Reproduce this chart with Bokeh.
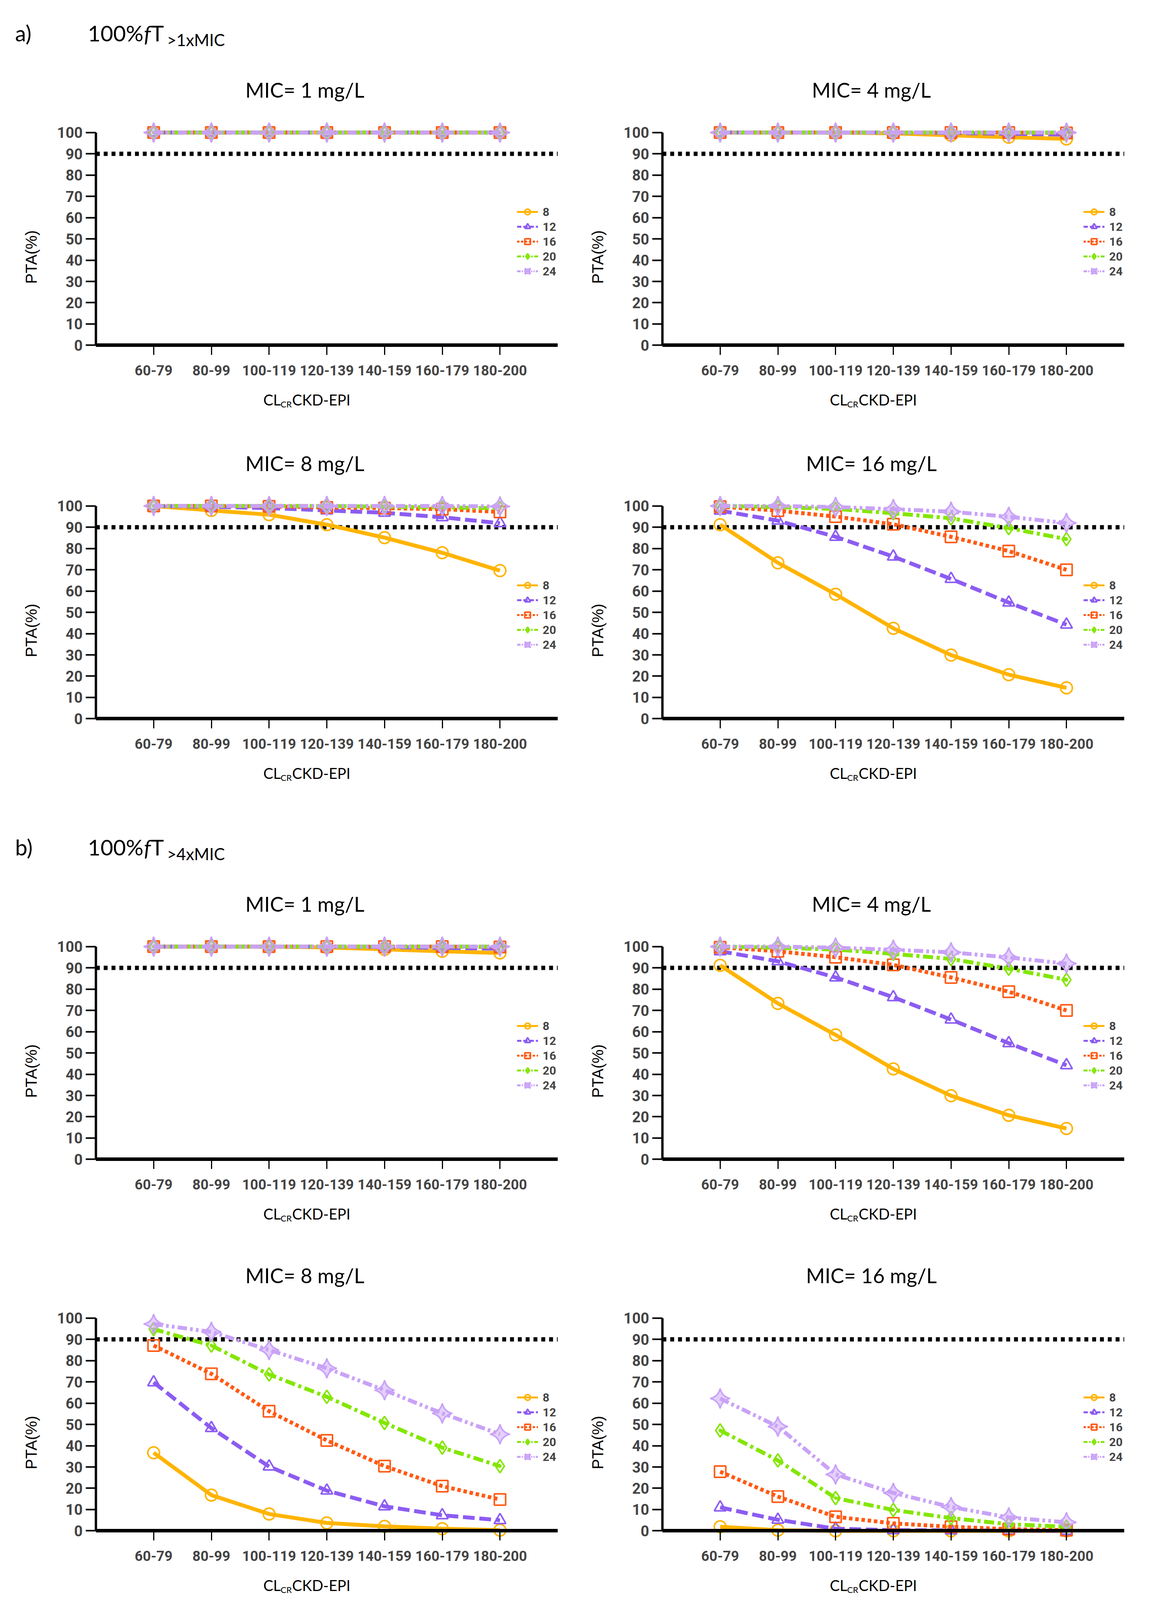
import numpy as np
from bokeh.plotting import figure
from bokeh.models import Label, FixedTicker, Legend, LegendItem
from bokeh.layouts import gridplot
from bokeh.embed import file_html
from bokeh.resources import INLINE

# ---------------- data ----------------
categories = ["60-79", "80-99", "100-119", "120-139", "140-159", "160-179", "180-200"]
doses = ["8", "12", "16", "20", "24"]
y_ticks = [0, 10, 20, 30, 40, 50, 60, 70, 80, 90, 100]
target = 90

# a) 100% fT>1xMIC
pta_a_mic1 = [
    [100, 100, 100, 100, 100, 100, 100],
    [100, 100, 100, 100, 100, 100, 100],
    [100, 100, 100, 100, 100, 100, 100],
    [100, 100, 100, 100, 100, 100, 100],
    [100, 100, 100, 100, 100, 100, 100],
]
pta_a_mic4 = [
    [100, 100, 100, 99.6, 98.7, 97.8, 97.0],
    [100, 100, 100, 100, 99.8, 99.4, 99.0],
    [100, 100, 100, 100, 100, 100, 99.8],
    [100, 100, 100, 100, 100, 100, 100],
    [100, 100, 100, 100, 100, 100, 100],
]
pta_a_mic8 = [
    [100, 97.9, 95.9, 91.2, 85.1, 78.0, 69.6],
    [100, 99.6, 99.0, 97.9, 96.8, 94.7, 91.9],
    [100, 100, 99.8, 99.3, 99.0, 98.5, 97.2],
    [100, 100, 100, 100, 99.7, 99.3, 99.0],
    [100, 100, 100, 100, 100, 100, 99.8],
]
pta_a_mic16 = [
    [91.2, 73.3, 58.5, 42.5, 29.9, 20.7, 14.5],
    [97.8, 93.1, 85.5, 76.2, 65.7, 54.6, 44.2],
    [99.7, 97.8, 95.0, 91.4, 85.5, 78.8, 70.0],
    [100, 99.5, 98.6, 96.6, 94.2, 89.6, 84.4],
    [100, 100, 99.5, 98.5, 97.3, 94.9, 92.0],
]
# b) 100% fT>4xMIC
pta_b_mic1 = [
    [100, 100, 100, 99.6, 98.7, 97.8, 97.0],
    [100, 100, 100, 100, 99.8, 99.4, 99.0],
    [100, 100, 100, 100, 100, 100, 99.8],
    [100, 100, 100, 100, 100, 100, 100],
    [100, 100, 100, 100, 100, 100, 100],
]
pta_b_mic4 = [
    [91.2, 73.3, 58.5, 42.5, 29.9, 20.7, 14.5],
    [97.8, 93.1, 85.5, 76.2, 65.7, 54.6, 44.2],
    [99.7, 97.8, 95.0, 91.4, 85.5, 78.8, 70.0],
    [100, 99.5, 98.6, 96.6, 94.2, 89.6, 84.4],
    [100, 100, 99.5, 98.5, 97.3, 94.9, 92.0],
]
pta_b_mic8 = [
    [36.7, 16.8, 7.9, 3.7, 2.1, 1.0, 0.3],
    [69.8, 48.3, 30.2, 18.9, 11.5, 7.3, 5.0],
    [87.1, 73.8, 56.2, 42.5, 30.4, 21.0, 14.7],
    [94.8, 87.1, 73.5, 63.0, 50.7, 39.1, 30.4],
    [97.2, 93.5, 85.0, 76.4, 66.1, 55.2, 45.4],
]
pta_b_mic16 = [
    [1.9, 0.3, 0.0, 0.0, 0.0, 0.0, 0.0],
    [11.0, 5.2, 1.0, 0.3, 0.2, 0.1, 0.0],
    [27.8, 16.1, 6.6, 3.5, 1.9, 0.8, 0.3],
    [47.2, 33.1, 15.4, 9.8, 6.0, 3.1, 1.9],
    [62.2, 49.0, 26.5, 17.8, 11.2, 6.3, 4.0],
]
titles = ["MIC= 1 mg/L", "MIC= 4 mg/L", "MIC= 8 mg/L", "MIC= 16 mg/L"]
x_axis_end = len(categories) + 1

# ---------------- styles ----------------
colors = ["#FFB400", "#8C5CF2", "#FF5A14", "#84E600", "#C9A2F7"]
dashes = ["solid", "30 12", "9 7", "26 9 8 9", "24 8 7 8 7 8"]
legend_dashes = ["solid", "11 5", "6 4", "10 4 4 4", "9 3 3 3 3 3"]
markers = ["circle", "triangle", "square", "diamond_dot", "square_pin"]
msizes = [30, 30, 29, 34, 36]
mangles = [0, 0, 0, 0, np.pi / 4]
mfill = [0, 0, 0, 0, 0.5]

TICK_FONT = "Roboto"
TEXT_FONT = "Lato"
PANEL_W = 1474
DATA_W, DATA_H = 1182, 580
SX = DATA_W / 8.0
SY = DATA_H / 106.5


def make_panel(pta, title, col, top, bottom):
    left = 245 if col == 0 else 221
    H = top + DATA_H + bottom
    xr = (-left / SX, (PANEL_W - left) / SX)
    yr = (-(bottom + 2.5 * SY) / SY, (top + 104 * SY) / SY)
    p = figure(frame_width=PANEL_W, frame_height=H, x_range=xr, y_range=yr,
               min_border=0, output_backend="svg", toolbar_location=None, tools="")
    p.grid.visible = False
    p.outline_line_color = None
    p.background_fill_color = "white"
    p.border_fill_color = "white"

    xs = list(range(1, len(categories) + 1))
    xa = p.xaxis[0]
    xa.ticker = FixedTicker(ticks=xs)
    xa.major_label_overrides = {x: c for x, c in zip(xs, categories)}
    xa.fixed_location = 0
    xa.bounds = (0, x_axis_end)
    xa.axis_line_width = 9
    xa.major_tick_in = 0
    xa.major_tick_out = 25
    xa.major_tick_line_width = 3
    xa.minor_tick_line_color = None
    xa.major_label_text_font = TICK_FONT
    xa.major_label_text_font_style = "bold"
    xa.major_label_text_font_size = "36px"
    xa.major_label_standoff = 26

    ya = p.yaxis[0]
    ya.ticker = FixedTicker(ticks=y_ticks)
    ya.fixed_location = 0
    ya.bounds = (0, 100)
    ya.axis_line_width = 6
    ya.major_tick_in = 0
    ya.major_tick_out = 26
    ya.major_tick_line_width = 4
    ya.minor_tick_line_color = None
    ya.major_label_text_font = TICK_FONT
    ya.major_label_text_font_style = "bold"
    ya.major_label_text_font_size = "38px"
    ya.major_label_standoff = 8

    p.line([0, x_axis_end], [target, target], line_color="black",
           line_width=11, line_dash="10 10")

    items = []
    for i, d in enumerate(doses):
        p.line(xs, pta[i], line_color=colors[i], line_width=10, line_dash=dashes[i])
        p.scatter(xs, pta[i], marker=markers[i], size=msizes[i], angle=mangles[i],
                  line_color=colors[i], fill_color=colors[i], fill_alpha=mfill[i],
                  line_width=4)
        # hidden copies of the series, used only to draw thinner legend glyphs
        rl = p.line(xs, pta[i], line_color=colors[i], line_width=5,
                    line_dash=legend_dashes[i], visible=False)
        rm = p.scatter(xs, pta[i], marker=markers[i], angle=mangles[i],
                       line_color=colors[i], fill_color=colors[i], fill_alpha=mfill[i],
                       line_width=4, visible=False)
        items.append(LegendItem(label=d, renderers=[rl, rm]))

    lg = Legend(items=items, location=(left + 1078, bottom + 185), padding=0, margin=0,
                spacing=2, glyph_width=54, glyph_height=36, label_height=36,
                label_standoff=12, label_text_font=TICK_FONT,
                label_text_font_style="bold", label_text_font_size="30px",
                background_fill_alpha=0, border_line_color=None,
                inactive_fill_alpha=0, click_policy="none")
    p.add_layout(lg)

    # panel title
    p.add_layout(Label(x=3.62, y=120.0, text=title, text_align="center",
                       text_baseline="middle", text_font=TEXT_FONT,
                       text_font_size="52px", text_color="black"))
    # y axis title
    p.add_layout(Label(x=-1.12, y=41.5, text="PTA(%)", angle=np.pi / 2,
                       text_align="center", text_baseline="middle",
                       text_font="Liberation Sans", text_font_size="40px",
                       text_color="black"))
    # x axis title with subscript
    p.add_layout(Label(x=2.90, y=-25.5, text="CL", text_align="left",
                       text_baseline="alphabetic", text_font=TEXT_FONT,
                       text_font_size="38px", text_color="black"))
    p.add_layout(Label(x=3.20, y=-27.6, text="CR", text_align="left",
                       text_baseline="alphabetic", text_font=TEXT_FONT,
                       text_font_size="22px", text_color="black"))
    p.add_layout(Label(x=3.40, y=-25.5, text="CKD-EPI", text_align="left",
                       text_baseline="alphabetic", text_font=TEXT_FONT,
                       text_font_size="38px", text_color="black"))
    return p


def add_header(p, letter, sub):
    p.add_layout(Label(x=-1.40, y=146.8, text=letter, text_align="left",
                       text_baseline="alphabetic", text_font=TEXT_FONT,
                       text_font_size="56px", text_color="black"))
    p.add_layout(Label(x=-0.14, y=146.8, text="100%", text_align="left",
                       text_baseline="alphabetic", text_font=TEXT_FONT,
                       text_font_size="56px", text_color="black"))
    p.add_layout(Label(x=0.83, y=146.8, text="f", text_align="left",
                       text_baseline="alphabetic", text_font=TEXT_FONT,
                       text_font_style="italic", text_font_size="56px",
                       text_color="black"))
    p.add_layout(Label(x=0.955, y=146.8, text="T", text_align="left",
                       text_baseline="alphabetic", text_font=TEXT_FONT,
                       text_font_size="56px", text_color="black"))
    p.add_layout(Label(x=1.23, y=143.6, text=sub, text_align="left",
                       text_baseline="alphabetic", text_font=TEXT_FONT,
                       text_font_size="42px", text_color="black"))


rows_cfg = [(317, 204), (172, 199), (349, 199), (172, 166)]
panels_data = [[pta_a_mic1, pta_a_mic4], [pta_a_mic8, pta_a_mic16],
               [pta_b_mic1, pta_b_mic4], [pta_b_mic8, pta_b_mic16]]
panel_titles = [[titles[0], titles[1]], [titles[2], titles[3]],
                [titles[0], titles[1]], [titles[2], titles[3]]]

grid = []
for r in range(4):
    top, bottom = rows_cfg[r]
    row = []
    for c in range(2):
        row.append(make_panel(panels_data[r][c], panel_titles[r][c], c, top, bottom))
    grid.append(row)

add_header(grid[0][0], "a)", ">1xMIC")
add_header(grid[2][0], "b)", ">4xMIC")

layout = gridplot(grid, toolbar_location=None)
open("out.html", "w").write(file_html(layout, INLINE))
